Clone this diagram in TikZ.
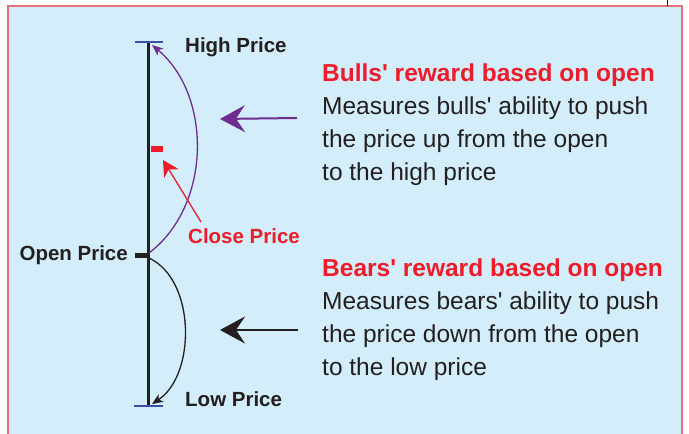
\documentclass[tikz,border=0pt]{standalone}
\usepackage{fontspec}
\setmainfont{Liberation Sans}[Ligatures=TeXOff]
\usetikzlibrary{arrows.meta}
\definecolor{bg}{HTML}{D3EEFA}
\definecolor{frame}{HTML}{E2707A}
\definecolor{myred}{HTML}{EC1C2A}
\definecolor{mypurple}{HTML}{6F2C91}
\definecolor{ink}{HTML}{231F20}
\definecolor{tickblue}{HTML}{3B4FA6}
\tikzset{
  lbl/.style={font=\bfseries\fontsize{20.5}{24}\selectfont, text=ink, inner sep=0pt},
  desc/.style={font=\fontsize{24.5}{32.8}\selectfont, text=ink, inner sep=0pt, anchor=base west},
  desctitle/.style={desc, font=\bfseries\fontsize{24.5}{32.8}\selectfont, text=myred},
  bigtip/.style={-{Stealth[length=25pt,width=27pt,inset=9pt]}},
}
\begin{document}
\begin{tikzpicture}[x=1pt,y=-1pt]
\useasboundingbox (0,0) rectangle (689,434);
\fill[bg] (8,6) rectangle (682,440);
\draw[frame, line width=1.3pt] (8,440) -- (8,6) -- (682,6) -- (682,440);
\draw[ink, line width=0.6pt] (667,0) -- (667,6);
% coordinates
\coordinate (top) at (148,42);
\coordinate (bot) at (148,406);
\coordinate (high) at (152,45);
\coordinate (low) at (152,404);
% axis
\draw[ink, line width=3pt] (top) -- (bot);
\draw[tickblue, line width=1.5pt] (135,42) -- (163,42);
\draw[tickblue, line width=1.5pt] (134,406) -- (163,406);
\fill[ink] (135,253) rectangle (148,258);
\fill[myred] (151,145.5) rectangle (163,152);
\coordinate (close) at (163,160);
% arcs
\draw[mypurple, line width=1.3pt, -{Stealth[length=11pt,width=9pt,inset=3pt]}] (149,253) .. controls (212,205) and (212,95) .. (high);
\draw[ink, line width=1.3pt, -{Stealth[length=11pt,width=9pt,inset=3pt]}] (149,258) .. controls (196,280) and (196,375) .. (low);
% labels
\node[lbl, anchor=west] (hp) at (185,47) {High Price};
\node[lbl, anchor=west] (lp) at (185,399) {Low Price};
\node[lbl, anchor=east] (op) at (128,255) {Open Price};
\node[lbl, anchor=west, text=myred] (cp) at (188,236) {Close Price};
\coordinate (cs) at (201,222);
\draw[myred, line width=1.3pt, -{Stealth[length=16pt,width=17pt,inset=5pt]}] (cs) -- (close);
% descriptions
\node[desctitle] (bt) at (322,81) {Bulls' reward based on open};
\node[desc] (b1) at (322,114) {Measures bulls' ability to push};
\node[desc] (b2) at (322,147) {the price up from the open};
\node[desc] (b3) at (322,180) {to the high price};
\node[desctitle] (rt) at (322,276) {Bears' reward based on open};
\node[desc] (r1) at (322,309) {Measures bears' ability to push};
\node[desc] (r2) at (322,342) {the price down from the open};
\node[desc] (r3) at (322,375) {to the low price};
% big arrows
\coordinate (pa) at (297,118);
\coordinate (pb) at (220,119);
\coordinate (ba) at (298,330);
\coordinate (bb) at (220,330);
\draw[mypurple, line width=2pt, bigtip] (pa) -- (pb);
\draw[ink, line width=1.8pt, bigtip] (ba) -- (bb);
\end{tikzpicture}
\end{document}
